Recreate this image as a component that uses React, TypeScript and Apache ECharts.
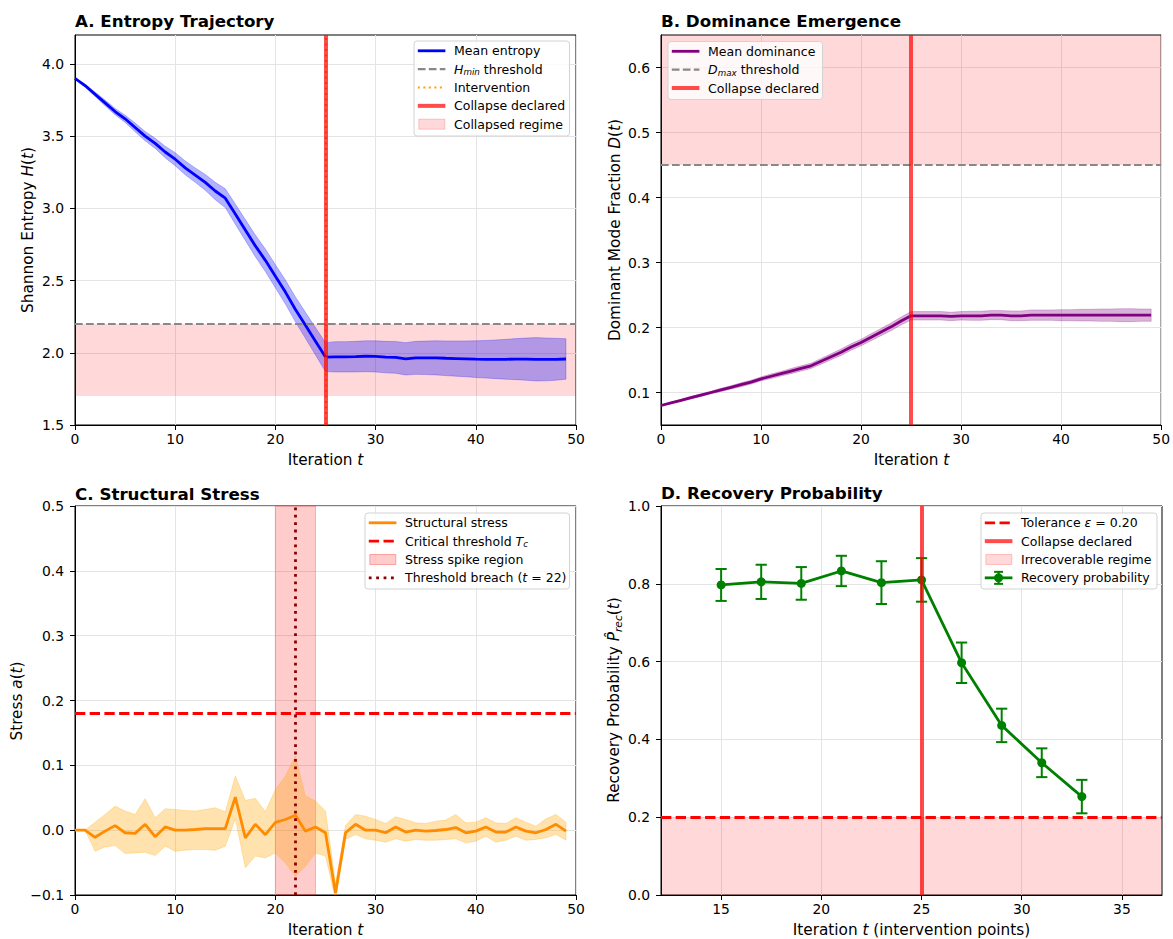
import React, { useEffect, useRef } from 'react';
import * as echarts from 'echarts';

const FONT = "'DejaVu Sans', sans-serif";

// ---------------- data ----------------
const iterations = Array.from({ length: 50 }, (_, i) => i);

const entropyMean = [
  3.90, 3.85, 3.79, 3.73, 3.67, 3.62, 3.56, 3.50, 3.45, 3.39,
  3.34, 3.28, 3.23, 3.18, 3.12, 3.07, 2.96, 2.85, 2.74, 2.64,
  2.53, 2.42, 2.30, 2.19, 2.08, 1.97, 1.972, 1.972, 1.973, 1.976,
  1.975, 1.970, 1.968, 1.958, 1.965, 1.965, 1.965, 1.962, 1.960, 1.958,
  1.956, 1.955, 1.955, 1.955, 1.956, 1.956, 1.955, 1.954, 1.955, 1.957,
];
const entropyStd = [
  0.0, 0.01, 0.015, 0.02, 0.022, 0.025, 0.03, 0.032, 0.035, 0.04,
  0.045, 0.048, 0.05, 0.055, 0.06, 0.065, 0.07, 0.072, 0.075, 0.078,
  0.08, 0.083, 0.086, 0.09, 0.095, 0.10, 0.105, 0.105, 0.106, 0.107,
  0.108, 0.109, 0.110, 0.112, 0.114, 0.116, 0.118, 0.12, 0.122, 0.124,
  0.127, 0.13, 0.134, 0.138, 0.142, 0.146, 0.15, 0.148, 0.145, 0.14,
];
const entropyThreshold = 2.2;
const entropyRegimeFloor = 1.7;
const entropyAxis = { min: 1.5, max: 4.2 };
const entropyTicks = [1.5, 2.0, 2.5, 3.0, 3.5, 4.0];

const dominanceMean = [
  0.080, 0.084, 0.088, 0.092, 0.096, 0.100, 0.104, 0.108, 0.112, 0.116,
  0.121, 0.125, 0.129, 0.133, 0.137, 0.141, 0.148, 0.155, 0.162, 0.170,
  0.177, 0.185, 0.193, 0.201, 0.210, 0.218, 0.218, 0.218, 0.218, 0.217,
  0.218, 0.218, 0.218, 0.219, 0.219, 0.218, 0.218, 0.219, 0.219, 0.219,
  0.219, 0.219, 0.219, 0.219, 0.219, 0.219, 0.219, 0.219, 0.219, 0.219,
];
const dominanceStd = [
  0.001, 0.001, 0.0015, 0.002, 0.002, 0.002, 0.0025, 0.0025, 0.003, 0.003,
  0.003, 0.0035, 0.0035, 0.004, 0.004, 0.004, 0.0045, 0.0045, 0.005, 0.005,
  0.005, 0.0055, 0.0055, 0.006, 0.006, 0.0065, 0.0065, 0.0065, 0.0065, 0.0065,
  0.0065, 0.007, 0.007, 0.007, 0.007, 0.0075, 0.0075, 0.008, 0.008, 0.008,
  0.0085, 0.0085, 0.009, 0.009, 0.0095, 0.0095, 0.01, 0.01, 0.0095, 0.0095,
];
const dominanceThreshold = 0.45;
const dominanceAxis = { min: 0.05, max: 0.65 };
const dominanceTicks = [0.1, 0.2, 0.3, 0.4, 0.5, 0.6];

const stressMean = [
  0, 0, -0.011, -0.0015, 0.007, -0.004, -0.005, 0.009, -0.010, 0.005,
  0, 0, 0.001, 0.0025, 0.0025, 0.0025, 0.051, -0.012, 0.009, -0.007,
  0.012, 0.0165, 0.023, -0.0015, 0.005, -0.004, -0.097, -0.004, 0.009, 0,
  0, -0.004, 0.005, -0.003, 0, -0.0015, -0.0005, 0.001, 0.004, -0.004,
  -0.0015, 0.005, -0.003, -0.003, 0.005, -0.0015, -0.004, 0.001, 0.009, -0.0015,
];
const stressHigh = [
  0, 0, 0.0124, 0.0242, 0.0371, 0.0294, 0.0242, 0.0485, 0.0191, 0.0330,
  0.0320, 0.0304, 0.0294, 0.0320, 0.0345, 0.0284, 0.0835, 0.046, 0.049, 0.0284,
  0.0629, 0.0835, 0.1144, 0.0526, 0.0448, 0.0294, -0.082, 0.0072, 0.0242, 0.0216,
  0.0165, 0.0103, 0.0206, 0.0165, 0.0113, 0.0103, 0.0139, 0.0155, 0.0242, 0.0113,
  0.0124, 0.0191, 0.0113, 0.0103, 0.0191, 0.0124, 0.0062, 0.0175, 0.0242, 0.0124,
];
const stressLow = [
  0, 0, -0.0325, -0.0258, -0.0237, -0.0361, -0.0351, -0.0340, -0.0392, -0.0247,
  -0.0325, -0.0309, -0.0299, -0.0299, -0.0309, -0.0247, 0.0175, -0.058, -0.040, -0.0428,
  -0.0351, -0.0505, -0.0711, -0.0557, -0.0351, -0.040, -0.107, -0.0144, -0.0067, -0.0134,
  -0.0155, -0.0186, -0.0134, -0.0170, -0.0144, -0.0155, -0.0155, -0.0144, -0.0134, -0.0196,
  -0.0170, -0.0093, -0.0186, -0.0155, -0.0093, -0.0155, -0.0144, -0.0118, -0.0067, -0.0155,
];
const stressThreshold = 0.18;
const spikeRegion = [20, 24];
const breachIteration = 22;
const stressAxis = { min: -0.1, max: 0.5 };

const recoveryIteration = [15, 17, 19, 21, 23, 25, 27, 29, 31, 33];
const recoveryMean = [0.797, 0.805, 0.801, 0.833, 0.803, 0.810, 0.597, 0.436, 0.340, 0.253];
const recoveryErr = [0.041, 0.044, 0.042, 0.039, 0.055, 0.056, 0.052, 0.043, 0.037, 0.043];
const tolerance = 0.2;
const recoveryXAxis = { min: 12, max: 37 };
const recoveryXTicks = [15, 20, 25, 30, 35];

const iterationAxis = { min: 0, max: 50 };
const iterationTicks = [0, 10, 20, 30, 40, 50];
const collapseIteration = 25;
const interventionIteration = 25;

// ---------------- styles ----------------
const PINK = 'rgba(255,0,0,0.15)';
const COLLAPSE = 'rgba(255,0,0,0.7)';
const GRAY = '#888888';
const GREEN = '#008000';
const TICK_FS = 13.9;

const isMultiple = (v: number, step: number) => Math.abs(v / step - Math.round(v / step)) < 1e-6;

function fmt(decimals: number, step: number) {
  return (v: number) => {
    if (!isMultiple(v, step)) return '';
    if (Math.abs(v) < 1e-9) return (0).toFixed(decimals);
    return (v < 0 ? '\u2212' : '') + Math.abs(v).toFixed(decimals);
  };
}

function axis(kind: 'x' | 'y', gridIndex: number, range: any, ticks: number[], decimals: number, step: number, interval?: number) {
  const a: any = {
    type: 'value',
    gridIndex,
    min: range.min,
    max: range.max,
    splitNumber: 5,
    axisLine: { show: true, onZero: false, lineStyle: { color: '#000', width: 1 } },
    axisTick: { show: true, length: 5, customValues: ticks, lineStyle: { color: '#000', width: 1 } },
    axisLabel: {
      color: '#000',
      fontFamily: FONT,
      fontSize: TICK_FS,
      margin: kind === 'x' ? 7 : 11,
      customValues: ticks,
      formatter: fmt(decimals, step),
    },
    splitLine: { show: true, lineStyle: { color: '#e4e4e4', width: 1 } },
  };
  if (interval != null) a.interval = interval;
  return a;
}

function band(xi: number, low: number[], high: number[], color: string) {
  return {
    type: 'custom',
    xAxisIndex: xi,
    yAxisIndex: xi,
    clip: true,
    silent: true,
    z: 2,
    data: iterations.map((i) => [i, low[i], high[i]]),
    encode: { x: 0, y: [1, 2] },
    renderItem: (params: any, api: any) => {
      if (params.dataIndex !== 0) return null;
      const pts: number[][] = [];
      for (let k = 0; k < iterations.length; k++) pts.push(api.coord([iterations[k], high[k]]));
      for (let k = iterations.length - 1; k >= 0; k--) pts.push(api.coord([iterations[k], low[k]]));
      return { type: 'polygon', shape: { points: pts }, style: { fill: color, stroke: color, lineWidth: 0.8 } };
    },
  };
}

function richStyles(fs: number, weight = 'normal') {
  return {
    n: { fontFamily: FONT, fontSize: fs, fontWeight: weight, fill: '#000', lineHeight: fs * 1.25 },
    i: { fontFamily: FONT, fontSize: fs, fontStyle: 'italic', fill: '#000', lineHeight: fs * 1.25 },
    s: { fontFamily: FONT, fontSize: fs * 0.7, fontStyle: 'italic', fill: '#000', lineHeight: fs * 0.7, verticalAlign: 'bottom' },
  };
}

function text(x: number, y: number, str: string, fs: number, opts: any = {}) {
  return {
    type: 'text',
    x,
    y,
    rotation: opts.rotation || 0,
    z: 100,
    style: {
      text: str,
      rich: richStyles(fs, opts.weight || 'normal'),
      font: `${opts.weight || 'normal'} ${fs}px ${FONT}`,
      fill: '#000',
      textAlign: opts.align || 'center',
      textVerticalAlign: 'middle',
    },
  };
}

type Row = { kind: string; label: string; color?: string; width?: number; dash?: number[]; stroke?: string };

function legend(x: number, y: number, w: number, h: number, rows: Row[]) {
  const els: any[] = [
    { type: 'rect', z: 100, shape: { x, y, width: w, height: h, r: 3 }, style: { fill: 'rgba(255,255,255,0.8)', stroke: '#d3d3d3', lineWidth: 1 } },
  ];
  rows.forEach((r, k) => {
    const cy = y + 9.8 + k * 18.35;
    const x0 = x + 3.8;
    const x1 = x + 31.4;
    if (r.kind === 'line') {
      els.push({ type: 'line', z: 101, shape: { x1: x0, y1: cy, x2: x1, y2: cy }, style: { stroke: r.color, lineWidth: r.width, lineDash: r.dash || null } });
    } else if (r.kind === 'patch') {
      els.push({ type: 'rect', z: 101, shape: { x: x0 + 1, y: cy - 5, width: 26, height: 10 }, style: { fill: r.color, stroke: r.stroke, lineWidth: 1 } });
    } else if (r.kind === 'errorbar') {
      const cx = (x0 + x1) / 2;
      els.push({ type: 'line', z: 101, shape: { x1: x0, y1: cy, x2: x1, y2: cy }, style: { stroke: GREEN, lineWidth: 2.8 } });
      els.push({ type: 'line', z: 101, shape: { x1: cx, y1: cy - 6, x2: cx, y2: cy + 6 }, style: { stroke: GREEN, lineWidth: 2 } });
      els.push({ type: 'line', z: 101, shape: { x1: cx - 4.5, y1: cy - 6, x2: cx + 4.5, y2: cy - 6 }, style: { stroke: GREEN, lineWidth: 2 } });
      els.push({ type: 'line', z: 101, shape: { x1: cx - 4.5, y1: cy + 6, x2: cx + 4.5, y2: cy + 6 }, style: { stroke: GREEN, lineWidth: 2 } });
      els.push({ type: 'circle', z: 102, shape: { cx, cy, r: 4.5 }, style: { fill: GREEN } });
    }
    els.push(text(x + 40, cy, r.label, 12.5, { align: 'left' }));
  });
  return els;
}

const noLabel = { show: false };

function buildOption() {
  const grids = [
    { left: 75, top: 35, width: 501, height: 390 },
    { left: 661, top: 35, width: 501, height: 390 },
    { left: 75, top: 506, width: 501, height: 389 },
    { left: 661, top: 506, width: 501, height: 389 },
  ].map((g) => ({ ...g, show: true, borderColor: '#000', borderWidth: 1, backgroundColor: 'transparent', containLabel: false }));

  const xAxes = [
    axis('x', 0, iterationAxis, iterationTicks, 0, 10, 10),
    axis('x', 1, iterationAxis, iterationTicks, 0, 10, 10),
    axis('x', 2, iterationAxis, iterationTicks, 0, 10, 10),
    axis('x', 3, recoveryXAxis, recoveryXTicks, 0, 5),
  ];
  const yAxes = [
    axis('y', 0, entropyAxis, entropyTicks, 1, 0.5, 0.5),
    axis('y', 1, dominanceAxis, dominanceTicks, 1, 0.1),
    axis('y', 2, stressAxis, [-0.1, 0, 0.1, 0.2, 0.3, 0.4, 0.5], 1, 0.1, 0.1),
    axis('y', 3, { min: 0, max: 1 }, [0, 0.2, 0.4, 0.6, 0.8, 1.0], 1, 0.2, 0.2),
  ];

  const series: any[] = [
    // ---- A ----
    band(0, iterations.map((i) => entropyMean[i] - entropyStd[i]), iterations.map((i) => entropyMean[i] + entropyStd[i]), 'rgba(0,0,255,0.3)'),
    {
      type: 'line', xAxisIndex: 0, yAxisIndex: 0, z: 3, silent: true, symbol: 'none',
      data: iterations.map((i) => [i, entropyMean[i]]),
      lineStyle: { color: '#0000ff', width: 2.8 },
      markArea: { silent: true, label: noLabel, itemStyle: { color: PINK }, data: [[{ yAxis: entropyRegimeFloor }, { yAxis: entropyThreshold }]] },
      markLine: {
        silent: true, symbol: ['none', 'none'], label: noLabel,
        data: [
          { yAxis: entropyThreshold, lineStyle: { color: GRAY, width: 2.1, type: [7.7, 3.3] } },
          { xAxis: interventionIteration, lineStyle: { color: '#ffa500', width: 2.1, type: [2.1, 3.4] } },
          { xAxis: collapseIteration, lineStyle: { color: COLLAPSE, width: 4, type: 'solid' } },
        ],
      },
    },
    // ---- B ----
    band(1, iterations.map((i) => dominanceMean[i] - dominanceStd[i]), iterations.map((i) => dominanceMean[i] + dominanceStd[i]), 'rgba(128,0,128,0.3)'),
    {
      type: 'line', xAxisIndex: 1, yAxisIndex: 1, z: 3, silent: true, symbol: 'none',
      data: iterations.map((i) => [i, dominanceMean[i]]),
      lineStyle: { color: '#800080', width: 2.8 },
      markArea: { silent: true, label: noLabel, itemStyle: { color: PINK }, data: [[{ yAxis: dominanceThreshold }, { yAxis: dominanceAxis.max }]] },
      markLine: {
        silent: true, symbol: ['none', 'none'], label: noLabel,
        data: [
          { yAxis: dominanceThreshold, lineStyle: { color: GRAY, width: 2.1, type: [7.7, 3.3] } },
          { xAxis: collapseIteration, lineStyle: { color: COLLAPSE, width: 4, type: 'solid' } },
        ],
      },
    },
    // ---- C ----
    band(2, stressLow, stressHigh, 'rgba(255,165,0,0.32)'),
    {
      type: 'line', xAxisIndex: 2, yAxisIndex: 2, z: 3, silent: true, symbol: 'none',
      data: iterations.map((i) => [i, stressMean[i]]),
      lineStyle: { color: '#ff8c00', width: 2.8 },
      markArea: {
        silent: true, label: noLabel,
        itemStyle: { color: 'rgba(255,0,0,0.2)', borderColor: 'rgba(255,0,0,0.25)', borderWidth: 1 },
        data: [[{ xAxis: spikeRegion[0] }, { xAxis: spikeRegion[1] }]],
      },
      markLine: {
        silent: true, symbol: ['none', 'none'], label: noLabel,
        data: [
          { yAxis: stressThreshold, lineStyle: { color: '#ff0000', width: 2.8, type: [10.3, 4.4] } },
          { xAxis: breachIteration, lineStyle: { color: '#8b0000', width: 2.8, type: [2.8, 4.6] } },
        ],
      },
    },
    // ---- D ----
    {
      type: 'custom', xAxisIndex: 3, yAxisIndex: 3, z: 3, silent: true,
      data: recoveryIteration.map((t, k) => [t, recoveryMean[k], recoveryErr[k]]),
      encode: { x: 0, y: 1 },
      renderItem: (params: any, api: any) => {
        const t = api.value(0);
        const m = api.value(1);
        const e = api.value(2);
        const p1 = api.coord([t, m + e]);
        const p2 = api.coord([t, m - e]);
        const cw = 5.6;
        const st = { stroke: GREEN, lineWidth: 2 };
        return {
          type: 'group',
          children: [
            { type: 'line', shape: { x1: p1[0], y1: p1[1], x2: p2[0], y2: p2[1] }, style: st },
            { type: 'line', shape: { x1: p1[0] - cw, y1: p1[1], x2: p1[0] + cw, y2: p1[1] }, style: st },
            { type: 'line', shape: { x1: p2[0] - cw, y1: p2[1], x2: p2[0] + cw, y2: p2[1] }, style: st },
          ],
        };
      },
    },
    {
      type: 'line', xAxisIndex: 3, yAxisIndex: 3, z: 4, silent: true,
      data: recoveryIteration.map((t, k) => [t, recoveryMean[k]]),
      symbol: 'circle', symbolSize: 9,
      itemStyle: { color: GREEN },
      lineStyle: { color: GREEN, width: 2.8 },
      markArea: { silent: true, label: noLabel, itemStyle: { color: PINK }, data: [[{ yAxis: 0 }, { yAxis: tolerance }]] },
      markLine: {
        silent: true, symbol: ['none', 'none'], label: noLabel,
        data: [
          { yAxis: tolerance, lineStyle: { color: '#ff0000', width: 2.8, type: [10.3, 4.4] } },
          { xAxis: collapseIteration, lineStyle: { color: COLLAPSE, width: 4, type: 'solid' } },
        ],
      },
    },
  ];

  const TITLE_FS = 16.7;
  const LABEL_FS = 15.3;
  const graphicEls: any[] = [
    text(75, 20.5, 'A. Entropy Trajectory', TITLE_FS, { align: 'left', weight: 'bold' }),
    text(661, 20.5, 'B. Dominance Emergence', TITLE_FS, { align: 'left', weight: 'bold' }),
    text(75, 493.5, 'C. Structural Stress', TITLE_FS, { align: 'left', weight: 'bold' }),
    text(661, 493, 'D. Recovery Probability', TITLE_FS, { align: 'left', weight: 'bold' }),
    text(325.5, 460, '{n|Iteration }{i|t}', LABEL_FS),
    text(911.5, 460, '{n|Iteration }{i|t}', LABEL_FS),
    text(325.5, 930, '{n|Iteration }{i|t}', LABEL_FS),
    text(911.5, 930, '{n|Iteration }{i|t}{n| (intervention points)}', LABEL_FS),
    text(28, 230, '{n|Shannon Entropy }{i|H}{n|(}{i|t}{n|)}', LABEL_FS, { rotation: Math.PI / 2 }),
    text(615, 230, '{n|Dominant Mode Fraction }{i|D}{n|(}{i|t}{n|)}', LABEL_FS, { rotation: Math.PI / 2 }),
    text(17, 701, '{n|Stress }{i|a}{n|(}{i|t}{n|)}', LABEL_FS, { rotation: Math.PI / 2 }),
    text(614, 700, '{n|Recovery Probability }{i|P\u0302}{s|rec}{n|(}{i|t}{n|)}', LABEL_FS, { rotation: Math.PI / 2 }),
    ...legend(414, 41, 155.5, 95, [
      { kind: 'line', label: 'Mean entropy', color: '#0000ff', width: 2.8 },
      { kind: 'line', label: '{i|H}{s|min}{n| threshold}', color: GRAY, width: 2.1, dash: [7.7, 3.3] },
      { kind: 'line', label: 'Intervention', color: '#ffa500', width: 2.1, dash: [2.1, 3.4] },
      { kind: 'line', label: 'Collapse declared', color: COLLAPSE, width: 4 },
      { kind: 'patch', label: 'Collapsed regime', color: PINK, stroke: 'rgba(255,0,0,0.2)' },
    ]),
    ...legend(668, 41.5, 154.5, 58, [
      { kind: 'line', label: 'Mean dominance', color: '#800080', width: 2.8 },
      { kind: 'line', label: '{i|D}{s|max}{n| threshold}', color: GRAY, width: 2.1, dash: [7.7, 3.3] },
      { kind: 'line', label: 'Collapse declared', color: COLLAPSE, width: 4 },
    ]),
    ...legend(365, 513, 204.5, 76, [
      { kind: 'line', label: 'Structural stress', color: '#ff8c00', width: 2.8 },
      { kind: 'line', label: '{n|Critical threshold }{i|T}{s|c}', color: '#ff0000', width: 2.8, dash: [10.3, 4.4] },
      { kind: 'patch', label: 'Stress spike region', color: 'rgba(255,0,0,0.2)', stroke: 'rgba(255,0,0,0.3)' },
      { kind: 'line', label: '{n|Threshold breach (}{i|t}{n| = 22)}', color: '#8b0000', width: 2.8, dash: [2.8, 4.6] },
    ]),
    ...legend(981, 513, 176, 76, [
      { kind: 'line', label: '{n|Tolerance }{i|\u03b5}{n| = 0.20}', color: '#ff0000', width: 2.8, dash: [10.3, 4.4] },
      { kind: 'line', label: 'Collapse declared', color: COLLAPSE, width: 4 },
      { kind: 'patch', label: 'Irrecoverable regime', color: PINK, stroke: 'rgba(255,0,0,0.2)' },
      { kind: 'errorbar', label: 'Recovery probability' },
    ]),
  ];

  return {
    animation: false,
    backgroundColor: '#ffffff',
    grid: grids,
    xAxis: xAxes,
    yAxis: yAxes,
    series,
    graphic: { elements: graphicEls },
  };
}

export default function App() {
  const ref = useRef<HTMLDivElement>(null);
  useEffect(() => {
    const chart = echarts.init(ref.current as HTMLDivElement, null, { renderer: 'svg' });
    chart.setOption(buildOption() as any);
    return () => chart.dispose();
  }, []);
  return <div ref={ref} style={{ position: 'absolute', left: 0, top: 0, width: 1173, height: 939, background: '#fff' }} />;
}
